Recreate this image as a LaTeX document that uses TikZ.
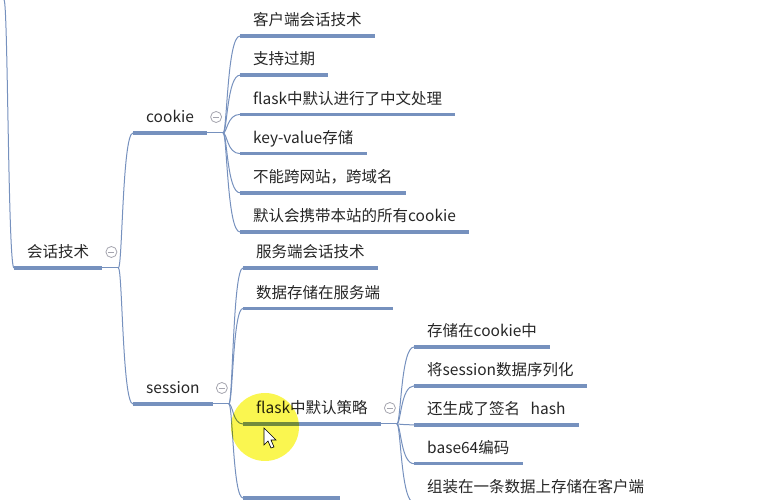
\documentclass[tikz,border=0pt]{standalone}
\usepackage{fontspec}
\setmainfont{Noto Sans CJK SC}
\usepackage{tikz}
\usetikzlibrary{positioning,calc}
\definecolor{linkblue}{RGB}{118,145,190}
\definecolor{foldgray}{RGB}{165,165,175}
\definecolor{inkgray}{RGB}{38,38,38}
\definecolor{markyellow}{RGB}{250,246,80}

\begin{document}
\begin{tikzpicture}[x=1pt, y=1pt, font=\fontsize{15.5}{18}\selectfont, node distance=10.8pt]
\tikzstyle{uline}=[draw=linkblue, line width=3.6pt]
\tikzstyle{conn}=[draw=linkblue, line width=1pt, to path={.. controls ($(\tikztostart)+(4,0)$) and ($(\tikztostart|-\tikztotarget)+(4,0)$) .. (\tikztotarget)}]
\tikzstyle{topic}=[inner xsep=13pt, inner ysep=6pt, text height=12pt, text depth=4pt, text=inkgray, anchor=south west, append after command={(\tikzlastnode.south west) edge[uline] (\tikzlastnode.south east)}]
\tikzstyle{fold}=[circle, draw=foldgray, fill=white, line width=0.8pt, minimum size=11pt, inner sep=0pt, path picture={\draw[foldgray, line width=0.8pt] ([xshift=-3pt]path picture bounding box.center) -- ([xshift=3pt]path picture bounding box.center);}]
\useasboundingbox (0,0) rectangle (764,500);
\coordinate (top) at (4,500);
\node[topic] (talk) at (14,232) {会话技术};
\coordinate[right=16pt of talk.south east] (talkfork);
\node[fold] (talkfold) at ($(talkfork)+(-7,16)$) {};
\node[topic] (cookie) at (133,367) {cookie};
\coordinate[right=16pt of cookie.south east] (cookiefork);
\node[fold] (cookiefold) at ($(cookiefork)+(-7,16)$) {};
\node[topic] (session) at (133,96) {session};
\coordinate[right=16pt of session.south east] (sessionfork);
\node[fold] (sessionfold) at ($(sessionfork)+(-7,16)$) {};
\node[topic] (c1) at (240,464) {客户端会话技术};
\node[topic, below right=10.8pt and 0pt of c1.south west] (c2) {支持过期};
\node[topic, below right=10.8pt and 0pt of c2.south west] (c3) {flask中默认进行了中文处理};
\node[topic, below right=10.8pt and 0pt of c3.south west] (c4) {key-value存储};
\node[topic, below right=10.8pt and 0pt of c4.south west] (c5) {不能跨网站，跨域名};
\node[topic, below right=10.8pt and 0pt of c5.south west] (c6) {默认会携带本站的所有cookie};
\node[topic] (s1) at (243,232) {服务端会话技术};
\node[topic, below right=12pt and 0pt of s1.south west] (s2) {数据存储在服务端};
\node[topic] (policy) at (243,76) {flask中默认策略};
\coordinate[right=16pt of policy.south east] (policyfork);
\node[fold] (policyfold) at ($(policyfork)+(-7,16)$) {};
\coordinate (s4) at (243,2);
\node[topic] (p1) at (414,153) {存储在cookie中};
\node[topic, below right=10.5pt and 0pt of p1.south west] (p2) {将session数据序列化};
\node[topic, below right=10.5pt and 0pt of p2.south west] (p3) {还生成了签名\ \ \ hash};
\node[topic, below right=10.5pt and 0pt of p3.south west] (p4) {base64编码};
\node[topic, below right=10.5pt and 0pt of p4.south west] (p5) {组装在一条数据上存储在客户端};
\draw[conn] (top) to (talk.south west);
\draw[conn] (talk.south east) -- (talkfork);
\draw[conn] (talkfork) to (cookie.south west);
\draw[conn] (talkfork) to (session.south west);
\draw[conn] (cookie.south east) -- (cookiefork);
\draw[conn] (cookiefork) to (c1.south west);
\draw[conn] (cookiefork) to (c2.south west);
\draw[conn] (cookiefork) to (c3.south west);
\draw[conn] (cookiefork) to (c4.south west);
\draw[conn] (cookiefork) to (c5.south west);
\draw[conn] (cookiefork) to (c6.south west);
\draw[conn] (session.south east) -- (sessionfork);
\draw[conn] (sessionfork) to (s1.south west);
\draw[conn] (sessionfork) to (s2.south west);
\draw[conn] (sessionfork) to (policy.south west);
\draw[conn] (sessionfork) to (s4);
\draw[uline] (s4) -- ++(97,0);
\draw[conn] (policy.south east) -- (policyfork);
\draw[conn] (policyfork) to (p1.south west);
\draw[conn] (policyfork) to (p2.south west);
\draw[conn] (policyfork) to (p3.south west);
\draw[conn] (policyfork) to (p4.south west);
\draw[conn] (policyfork) to (p5.south west);
\fill[markyellow, blend mode=multiply] (265,73) circle (34);
\draw[black, fill=white, line width=0.6pt, shift={(264,72)}] (0,0) -- (0,-17) -- (4,-13) -- (7,-20) -- (10,-19) -- (7,-12) -- (12,-12) -- cycle;
\end{tikzpicture}
\end{document}
